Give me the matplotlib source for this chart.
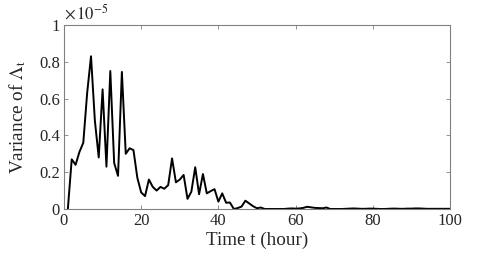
import matplotlib
matplotlib.use("Agg")
import matplotlib.pyplot as plt
import numpy as np

plt.rcParams['font.family'] = ['Liberation Serif', 'DejaVu Serif']
plt.rcParams['mathtext.fontset'] = 'stix'

# Time (hours)
t = list(range(1, 101))
# Variance of Lambda_t, in units of 1e-5
variance = [0.0, 0.27, 0.24, 0.31, 0.36, 0.63, 0.83, 0.48, 0.28, 0.65,
            0.23, 0.75, 0.25, 0.18, 0.745, 0.30, 0.33, 0.32, 0.17, 0.09,
            0.07, 0.16, 0.12, 0.10, 0.12, 0.11, 0.13, 0.275, 0.145, 0.16,
            0.185, 0.055, 0.094, 0.227, 0.08, 0.19, 0.085, 0.097, 0.108, 0.04,
            0.085, 0.034, 0.035, 0.0, 0.005, 0.013, 0.045, 0.03, 0.015, 0.004,
            0.008, 0.0, 0.0, 0.0, 0.0, 0.0, 0.0, 0.002, 0.003, 0.002,
            0.003, 0.006, 0.012, 0.009, 0.006, 0.005, 0.004, 0.008, 0.0, 0.0,
            0.0, 0.0, 0.001, 0.002, 0.003, 0.002, 0.001, 0.001, 0.002, 0.002,
            0.001, 0.0, 0.0, 0.001, 0.002, 0.002, 0.001, 0.001, 0.002, 0.002,
            0.003, 0.003, 0.002, 0.001, 0.001, 0.001, 0.001, 0.001, 0.001, 0.001]
xticks = [0, 20, 40, 60, 80, 100]
yticks = [0, 0.2, 0.4, 0.6, 0.8, 1]
ytick_labels = ['0', '0.2', '0.4', '0.6', '0.8', '1']

fig = plt.figure(figsize=(4.98, 2.57), dpi=100)
ax = fig.add_axes([0.1285, 0.1868, 0.775, 0.716])
ax.plot(t, variance, color='black', lw=1.4)
ax.set_xlim(0, 100)
ax.set_ylim(0, 1)
ax.set_xticks(xticks)
ax.set_yticks(yticks)
ax.set_yticklabels(ytick_labels)
axcol = '#262626'
for s in ax.spines.values():
    s.set_color('#808080')
    s.set_linewidth(0.8)
ax.tick_params(direction='in', top=True, right=True, length=3, width=0.6,
               color='#808080', labelsize=12, labelcolor=axcol, pad=3)
ax.set_xlabel('Time t (hour)', fontsize=13.8, color=axcol, labelpad=2)
ax.set_ylabel(r'Variance of $\mathrm{\Lambda}_\mathrm{t}$', fontsize=13.8, color=axcol, labelpad=8)
ax.text(0.0, 1.01, r'$\times\,10^{-5}$', transform=ax.transAxes, fontsize=12,
        color=axcol, ha='left', va='bottom')
fig.savefig('out.png', dpi=100)
